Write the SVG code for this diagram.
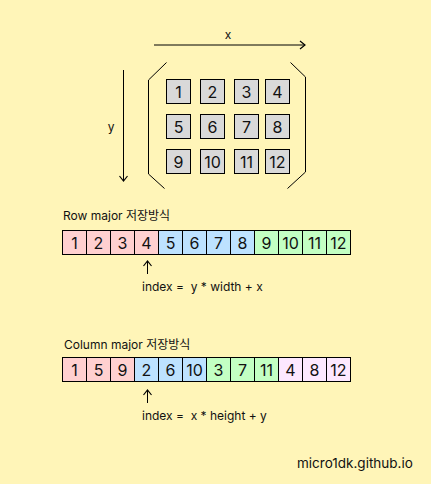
<svg xmlns="http://www.w3.org/2000/svg" width="431" height="484" viewBox="0 0 431 484">
<defs>
<style>
text{font-family:Inter,"Noto Sans","Noto Sans CJK KR",sans-serif;fill:#111}
.g rect{fill:#d9d9d9;stroke:#000;stroke-width:1}
.num{font-size:16px;text-anchor:middle}
.c rect{stroke:#000;stroke-width:1}
.p{fill:#ffd0d0}.b{fill:#bde2ff}.gr{fill:#c3ffc3}.l{fill:#fde8ff}
.lbl{font-size:12px}
.ln{stroke:#000;stroke-width:1;fill:none}
</style>
<marker id="ah" markerWidth="10" markerHeight="10" refX="7" refY="5" orient="auto" markerUnits="userSpaceOnUse">
<path d="M2,1 L7,5 L2,9" fill="none" stroke="#000" stroke-width="1.2"/>
</marker>
</defs>
<rect width="431" height="484" fill="#fff5b8"/>
<g id="connectors">
<line class="ln" x1="154" y1="45" x2="305" y2="45" marker-end="url(#ah)"/>
<line class="ln" x1="123.5" y1="70" x2="123.5" y2="181" marker-end="url(#ah)"/>
<path class="ln" d="M166.5,62.5 L148.5,80 L148.5,174 L164.5,188.5"/>
<path class="ln" d="M290.5,62.5 L305.5,77 L305.5,172 L287.5,188.5"/>
<line class="ln" x1="147.5" y1="274" x2="147.5" y2="261" marker-end="url(#ah)"/>
<line class="ln" x1="147.5" y1="403" x2="147.5" y2="390" marker-end="url(#ah)"/>
</g>
<g id="axis-labels">
<text class="lbl" x="228" y="39" text-anchor="middle">x</text>
<text class="lbl" x="111" y="131" text-anchor="middle">y</text>
</g>
<g id="matrix" class="g">
<rect x="166.5" y="79.5" width="24" height="24"/><rect x="200.5" y="79.5" width="24" height="24"/><rect x="234.5" y="79.5" width="24" height="24"/><rect x="265.5" y="79.5" width="24" height="24"/>
<rect x="166.5" y="114.5" width="24" height="24"/><rect x="200.5" y="114.5" width="24" height="24"/><rect x="234.5" y="114.5" width="24" height="24"/><rect x="265.5" y="114.5" width="24" height="24"/>
<rect x="166.5" y="149.5" width="24" height="24"/><rect x="200.5" y="149.5" width="24" height="24"/><rect x="234.5" y="149.5" width="24" height="24"/><rect x="265.5" y="149.5" width="24" height="24"/>
<g class="num">
<text x="178.5" y="97.5">1</text><text x="212.5" y="97.5">2</text><text x="246.5" y="97.5">3</text><text x="277.5" y="97.5">4</text>
<text x="178.5" y="132.5">5</text><text x="212.5" y="132.5">6</text><text x="246.5" y="132.5">7</text><text x="277.5" y="132.5">8</text>
<text x="178.5" y="167.5">9</text><text x="212.5" y="167.5">10</text><text x="246.5" y="167.5">11</text><text x="277.5" y="167.5">12</text>
</g>
</g>
<g id="row-major">
<text class="lbl" x="63" y="220">Row major 저장방식</text>
<g class="c">
<rect class="p" x="62.5" y="230.5" width="24" height="24"/><rect class="p" x="86.5" y="230.5" width="24" height="24"/><rect class="p" x="110.5" y="230.5" width="24" height="24"/><rect class="p" x="134.5" y="230.5" width="24" height="24"/>
<rect class="b" x="158.5" y="230.5" width="24" height="24"/><rect class="b" x="182.5" y="230.5" width="24" height="24"/><rect class="b" x="206.5" y="230.5" width="24" height="24"/><rect class="b" x="230.5" y="230.5" width="24" height="24"/>
<rect class="gr" x="254.5" y="230.5" width="24" height="24"/><rect class="gr" x="278.5" y="230.5" width="24" height="24"/><rect class="gr" x="302.5" y="230.5" width="24" height="24"/><rect class="gr" x="326.5" y="230.5" width="24" height="24"/>
</g>
<g class="num">
<text x="74.5" y="248.5">1</text><text x="98.5" y="248.5">2</text><text x="122.5" y="248.5">3</text><text x="146.5" y="248.5">4</text>
<text x="170.5" y="248.5">5</text><text x="194.5" y="248.5">6</text><text x="218.5" y="248.5">7</text><text x="242.5" y="248.5">8</text>
<text x="266.5" y="248.5">9</text><text x="290.5" y="248.5">10</text><text x="314.5" y="248.5">11</text><text x="338.5" y="248.5">12</text>
</g>
<text class="lbl" x="142" y="291" xml:space="preserve">index =  y * width + x</text>
</g>
<g id="column-major">
<text class="lbl" x="64" y="349">Column major 저장방식</text>
<g class="c">
<rect class="p" x="62.5" y="357.5" width="24" height="24"/><rect class="p" x="86.5" y="357.5" width="24" height="24"/><rect class="p" x="110.5" y="357.5" width="24" height="24"/>
<rect class="b" x="134.5" y="357.5" width="24" height="24"/><rect class="b" x="158.5" y="357.5" width="24" height="24"/><rect class="b" x="182.5" y="357.5" width="24" height="24"/>
<rect class="gr" x="206.5" y="357.5" width="24" height="24"/><rect class="gr" x="230.5" y="357.5" width="24" height="24"/><rect class="gr" x="254.5" y="357.5" width="24" height="24"/>
<rect class="l" x="278.5" y="357.5" width="24" height="24"/><rect class="l" x="302.5" y="357.5" width="24" height="24"/><rect class="l" x="326.5" y="357.5" width="24" height="24"/>
</g>
<g class="num">
<text x="74.5" y="375.5">1</text><text x="98.5" y="375.5">5</text><text x="122.5" y="375.5">9</text>
<text x="146.5" y="375.5">2</text><text x="170.5" y="375.5">6</text><text x="194.5" y="375.5">10</text>
<text x="218.5" y="375.5">3</text><text x="242.5" y="375.5">7</text><text x="266.5" y="375.5">11</text>
<text x="290.5" y="375.5">4</text><text x="314.5" y="375.5">8</text><text x="338.5" y="375.5">12</text>
</g>
<text class="lbl" x="142" y="420" xml:space="preserve">index =  x * height + y</text>
</g>
<text x="297" y="468" style="font-size:13.5px;font-weight:400">micro1dk.github.io</text>
</svg>
